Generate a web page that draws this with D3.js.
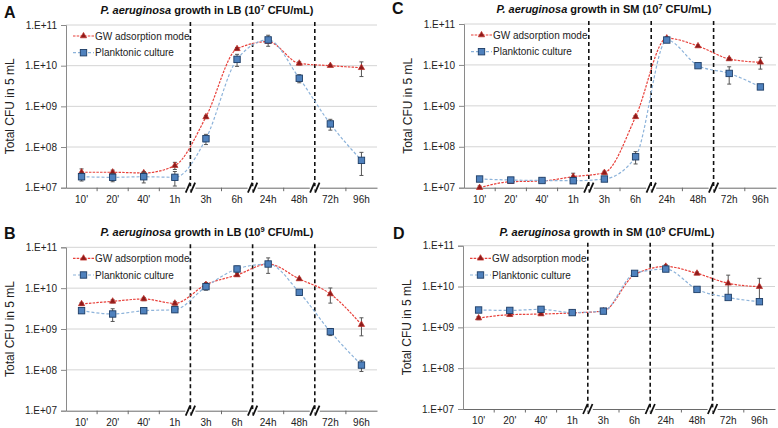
<!DOCTYPE html>
<html><head><meta charset="utf-8">
<script src="https://cdn.jsdelivr.net/npm/d3@7"></script>
<style>body{margin:0;background:#fff}svg{display:block;font-family:Arial,"Liberation Sans",sans-serif}</style>
</head><body><svg id="c" width="778" height="428"></svg>
<script>
const categories = ["10'", "20'", "40'", "1h", "3h", "6h", "24h", "48h", "72h", "96h"];
const breakAfter = ["1h", "6h", "48h"];
const yTickValues = [1e7, 1e8, 1e9, 1e10, 1e11];
const yTickLabels = ["1.E+07", "1.E+08", "1.E+09", "1.E+10", "1.E+11"];
const seriesNames = ["GW adsorption mode", "Planktonic culture"];
const yAxisTitle = "Total CFU in 5 mL";

// Panel A: LB, 10^7
const aGW = [2.4e7, 2.4e7, 2.3e7, 3.5e7, 5.5e8, 2.6e10, 3.9e10, 1.14e10, 1.0e10, 8.9e9];
const aGWsd = [0.5e7, 0.3e7, 0.2e7, 0.7e7, 0.5e8, 0.2e10, 0.3e10, 0.1e10, 0.05e10, 0.35e10];
const aPlank = [1.86e7, 1.8e7, 1.86e7, 1.8e7, 1.6e8, 1.43e10, 4.3e10, 4.9e9, 3.7e8, 4.7e7];
const aPlanksd = [0.4e7, 0.4e7, 0.55e7, 0.7e7, 0.45e8, 0.47e10, 1.3e10, 1.1e9, 1.1e8, 2.7e7];
// Panel B: LB, 10^9
const bGW = [4.1e9, 4.76e9, 5.43e9, 4.25e9, 1.22e10, 2.1e10, 3.9e10, 1.68e10, 7.2e9, 1.28e9];
const bGWsd = [0.3e9, 0.4e9, 0.5e9, 0.4e9, 0.15e10, 0.15e10, 0.3e10, 0.1e10, 2.9e9, 0.6e9];
const bPlank = [2.81e9, 2.33e9, 2.8e9, 2.97e9, 1.09e10, 2.95e10, 3.9e10, 7.9e9, 8.6e8, 1.31e8];
const bPlanksd = [0.35e9, 0.8e9, 0.4e9, 0.4e9, 0.2e10, 0.5e10, 1.6e10, 0.8e9, 1.7e8, 0.4e8];
// Panel C: SM, 10^7
const cGW = [1.0e7, 1.4e7, 1.46e7, 1.86e7, 2.33e7, 5.4e8, 4.5e10, 2.9e10, 1.4e10, 1.16e10];
const cGWsd = [0.1e7, 0.1e7, 0.1e7, 0.4e7, 0.2e7, 0.4e8, 0.3e10, 0.15e10, 0.1e10, 0.37e10];
const cPlank = [1.63e7, 1.54e7, 1.5e7, 1.48e7, 1.63e7, 5.7e7, 4.06e10, 9.6e9, 6.2e9, 2.9e9];
const cPlanksd = [0.1e7, 0.1e7, 0.1e7, 0.1e7, 0.1e7, 1.9e7, 0.3e10, 0.5e9, 2.8e9, 0.2e9];
// Panel D: SM, 10^9
const dGW = [1.69e9, 2.04e9, 2.12e9, 2.25e9, 2.51e9, 1.95e10, 3.1e10, 2.1e10, 1.2e10, 9.9e9];
const dGWsd = [0.15e9, 0.15e9, 0.15e9, 0.1e9, 0.1e9, 0.1e10, 0.3e10, 0.15e10, 0.7e10, 0.6e10];
const dPlank = [2.66e9, 2.6e9, 2.76e9, 2.3e9, 2.5e9, 2.1e10, 2.68e10, 8.5e9, 5.4e9, 4.25e9];
const dPlanksd = [0.1e9, 0.1e9, 0.1e9, 0.1e9, 0.1e9, 0.1e10, 0.2e10, 0.5e9, 0.4e9, 0.3e9];

const panels = [
  {letter: "A", medium: "LB", exp: "7", gw: aGW, gwsd: aGWsd, pl: aPlank, plsd: aPlanksd,
   x0: 66, x1: 377, yt: 25, yb: 187.7, letterX: 4, letterY: 18, titleX: 207, titleY: 14, legY: 36},
  {letter: "B", medium: "LB", exp: "9", gw: bGW, gwsd: bGWsd, pl: bPlank, plsd: bPlanksd,
   x0: 66, x1: 377, yt: 247.3, yb: 410.7, letterX: 4, letterY: 239, titleX: 207, titleY: 236, legY: 258.3},
  {letter: "C", medium: "SM", exp: "7", gw: cGW, gwsd: cGWsd, pl: cPlank, plsd: cPlanksd,
   x0: 464, x1: 776, yt: 24, yb: 187.7, letterX: 392, letterY: 14, titleX: 604, titleY: 13, legY: 35},
  {letter: "D", medium: "SM", exp: "9", gw: dGW, gwsd: dGWsd, pl: dPlank, plsd: dPlanksd,
   x0: 463, x1: 775, yt: 245.7, yb: 409, letterX: 393, letterY: 239, titleX: 607, titleY: 236, legY: 258.3}
];

const RED = "#e8413b", REDFILL = "#8e1b1b", BLUE = "#8db3da", BLUEFILL = "#4f81bd", BLUESTROKE = "#1d3d66";
const svg = d3.select("#c");

function triangle(g, cx, cy) {
  g.append("path").attr("d", d3.symbol(d3.symbolTriangle, 17)())
    .attr("transform", `translate(${cx},${cy})`)
    .attr("fill", REDFILL).attr("stroke", "#c0302a").attr("stroke-width", 0.7);
}
function square(g, cx, cy) {
  g.append("rect").attr("x", cx - 3.2).attr("y", cy - 3.2).attr("width", 6.4).attr("height", 6.4)
    .attr("fill", BLUEFILL).attr("stroke", BLUESTROKE).attr("stroke-width", 0.9);
}

panels.forEach(p => {
  const g = svg.append("g");
  const x = d3.scaleBand().domain(categories).range([p.x0, p.x1]);
  const bw = x.bandwidth();
  const cx = c => x(c) + bw / 2;
  const y = d3.scaleLog().domain([1e7, 1e11]).range([p.yb, p.yt]);

  // gridlines
  g.append("g").selectAll("line").data(yTickValues.slice(1)).join("line")
    .attr("x1", p.x0).attr("x2", p.x1).attr("y1", d => y(d)).attr("y2", d => y(d))
    .attr("stroke", "#d4d4d4").attr("stroke-width", 1);

  // y axis
  const ya = g.append("g").attr("transform", `translate(${p.x0},0)`)
    .call(d3.axisLeft(y).tickValues(yTickValues).tickFormat((d, i) => yTickLabels[i]).tickSize(5).tickPadding(4));
  ya.select(".domain").attr("stroke", "#8a8a8a");
  ya.selectAll(".tick line").attr("stroke", "#8a8a8a");
  ya.selectAll("text").attr("font-size", 10).attr("fill", "#222").attr("font-family", "Arial, 'Liberation Sans', sans-serif");

  // x axis
  const xa = g.append("g").attr("transform", `translate(0,${p.yb})`)
    .call(d3.axisBottom(x).tickSize(0).tickPadding(8));
  xa.select(".domain").attr("stroke", "#6a6a6a");
  xa.selectAll("text").attr("font-size", 10).attr("fill", "#222").attr("font-family", "Arial, 'Liberation Sans', sans-serif");
  g.append("g").selectAll("line").data(categories.slice(1)).join("line")
    .attr("x1", d => x(d)).attr("x2", d => x(d)).attr("y1", p.yb).attr("y2", p.yb + 3.5)
    .attr("stroke", "#6a6a6a");

  // titles
  g.append("text").attr("x", p.letterX).attr("y", p.letterY).attr("font-size", 16).attr("font-weight", "bold").attr("fill", "#111").text(p.letter);
  const t = g.append("text").attr("x", p.titleX).attr("y", p.titleY).attr("text-anchor", "middle")
    .attr("font-size", 11).attr("font-weight", "bold").attr("fill", "#111");
  t.append("tspan").attr("font-style", "italic").text("P. aeruginosa");
  t.append("tspan").text(` growth in ${p.medium} (10`);
  t.append("tspan").attr("font-size", 7.5).attr("dy", -4).text(p.exp);
  t.append("tspan").attr("dy", 4).text(" CFU/mL)");

  g.append("text").attr("transform", `translate(${p.x0 - 52},${(p.yt + p.yb) / 2}) rotate(-90)`)
    .attr("text-anchor", "middle").attr("font-size", 12).attr("fill", "#222").text(yAxisTitle);

  // break dashed lines and marks
  breakAfter.forEach(c => {
    const bx = x(c) + bw;
    g.append("line").attr("x1", bx).attr("x2", bx).attr("y1", p.yt - 3).attr("y2", p.yb)
      .attr("stroke", "#111").attr("stroke-width", 1.6).attr("stroke-dasharray", "4,3");
    g.append("rect").attr("x", bx - 5).attr("y", p.yb - 1.5).attr("width", 10).attr("height", 3).attr("fill", "#fff");
    [-2.5, 2.5].forEach(o => {
      g.append("line").attr("x1", bx + o - 2.2).attr("x2", bx + o + 2.2).attr("y1", p.yb + 5).attr("y2", p.yb - 5)
        .attr("stroke", "#111").attr("stroke-width", 1.8);
    });
  });

  const line = d3.line().x((d, i) => cx(categories[i])).y(d => y(d)).curve(d3.curveMonotoneX);
  const clampY = v => y(Math.max(1e7, Math.min(1e11, v)));
  function errbars(vals, sds) {
    const eg = g.append("g").attr("stroke", "#555").attr("stroke-width", 1);
    vals.forEach((v, i) => {
      const xx = cx(categories[i]);
      const top = clampY(v + sds[i]), bot = clampY(v - sds[i]);
      eg.append("line").attr("x1", xx).attr("x2", xx).attr("y1", top).attr("y2", bot);
      eg.append("line").attr("x1", xx - 2).attr("x2", xx + 2).attr("y1", top).attr("y2", top);
      eg.append("line").attr("x1", xx - 2).attr("x2", xx + 2).attr("y1", bot).attr("y2", bot);
    });
  }
  // GW series
  errbars(p.gw, p.gwsd);
  g.append("path").attr("d", line(p.gw)).attr("fill", "none").attr("stroke", RED).attr("stroke-width", 1.2).attr("stroke-dasharray", "2.5,1.2");
  p.gw.forEach((v, i) => triangle(g, cx(categories[i]), y(v)));
  // Planktonic series
  errbars(p.pl, p.plsd);
  g.append("path").attr("d", line(p.pl)).attr("fill", "none").attr("stroke", BLUE).attr("stroke-width", 1.2).attr("stroke-dasharray", "3,2");
  p.pl.forEach((v, i) => square(g, cx(categories[i]), y(v)));

  // legend
  const lx = p.x0 + 7;
  g.append("line").attr("x1", lx).attr("x2", lx + 21).attr("y1", p.legY).attr("y2", p.legY)
    .attr("stroke", RED).attr("stroke-width", 1.2).attr("stroke-dasharray", "2.5,1.2");
  triangle(g, lx + 10.5, p.legY);
  g.append("text").attr("x", lx + 22).attr("y", p.legY + 3.5).attr("font-size", 10).attr("fill", "#222").text(seriesNames[0]);
  const ly2 = p.legY + 16.7;
  g.append("line").attr("x1", lx).attr("x2", lx + 21).attr("y1", ly2).attr("y2", ly2)
    .attr("stroke", BLUE).attr("stroke-width", 1.2).attr("stroke-dasharray", "3,2");
  square(g, lx + 10.5, ly2);
  g.append("text").attr("x", lx + 22).attr("y", ly2 + 3.5).attr("font-size", 10).attr("fill", "#222").text(seriesNames[1]);
});
</script></body></html>
